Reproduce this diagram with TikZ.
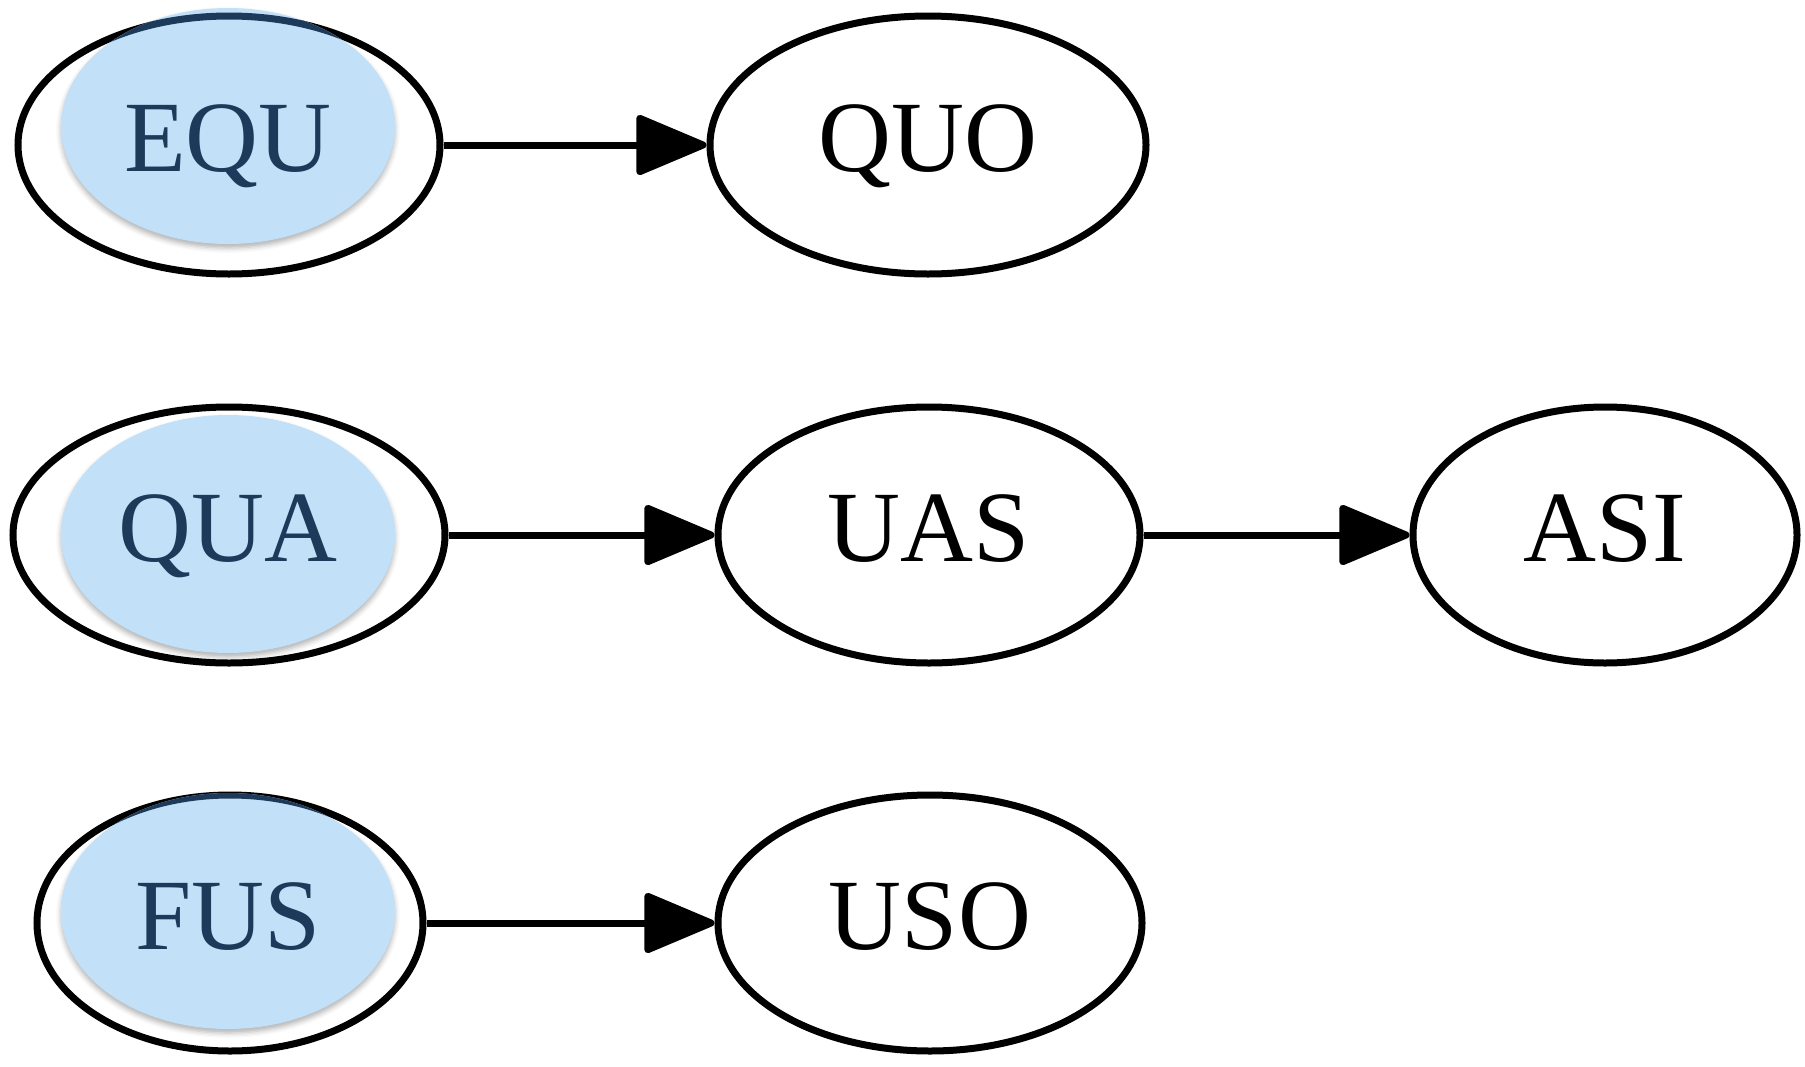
\documentclass[tikz,border=0pt]{standalone}
\usepackage{fontspec}
\setmainfont{Liberation Serif}
\newfontfamily\tnr{Liberation Serif}
\usetikzlibrary{shapes.geometric,arrows.meta,shadows.blur}
\definecolor{hl}{HTML}{C2E0F8}
\definecolor{navy}{HTML}{1E3A5A}
\tikzset{
  outl/.style={ellipse, draw=black, line width=7pt, inner sep=0pt},
  hlfill/.style={ellipse, fill=hl, inner sep=0pt,
    blur shadow={shadow xshift=0pt, shadow yshift=-4pt, shadow blur radius=5pt, shadow opacity=30}},
  lbl/.style={font=\tnr\fontsize{101}{110}\selectfont, text height=67pt, text depth=14pt, inner sep=0pt},
  conn/.style={line width=7pt, -{Triangle[length=76pt,width=62pt,round]}},
}
\begin{document}
\begin{tikzpicture}[x=1pt,y=-1pt]
\useasboundingbox (0,0) rectangle (1805,1066);
% outlines
\node[outl, minimum width=422pt, minimum height=258pt] (EQU) at (229,145) {};
\node[outl, minimum width=436pt, minimum height=258pt] (QUO) at (928,145) {};
\node[outl, minimum width=432pt, minimum height=256pt] (QUA) at (229,535) {};
\node[outl, minimum width=422pt, minimum height=256pt] (UAS) at (929,535) {};
\node[outl, minimum width=384pt, minimum height=256pt] (ASI) at (1605,535) {};
\node[outl, minimum width=386pt, minimum height=256pt] (FUS) at (230,923) {};
\node[outl, minimum width=424pt, minimum height=256pt] (USO) at (930,923) {};
% highlight fills
\node[hlfill, minimum width=334pt, minimum height=236pt] (EQUb) at (228,126) {};
\node[hlfill, minimum width=334pt, minimum height=238pt] (QUAb) at (228,534) {};
\node[hlfill, minimum width=334pt, minimum height=236pt] (FUSb) at (228,911) {};
% outline parts seen through the highlight
\begin{scope}
  \clip (EQUb.center) ellipse [x radius=167pt, y radius=118pt];
  \draw[navy, line width=7pt] (EQU.center) ellipse [x radius=211pt, y radius=129pt];
\end{scope}
\begin{scope}
  \clip (FUSb.center) ellipse [x radius=167pt, y radius=118pt];
  \draw[navy, line width=7pt] (FUS.center) ellipse [x radius=193pt, y radius=128pt];
\end{scope}
% labels
\node[lbl, text=navy] (EQUt) at (228,145) {EQU};
\node[lbl, text=navy] (QUAt) at (228,535) {QUA};
\node[lbl, text=navy] (FUSt) at (228,923) {FUS};
\node[lbl] (QUOt) at (QUO.center) {QUO};
\node[lbl] (UASt) at (UAS.center) {UAS};
\node[lbl] (ASIt) at (ASI.center) {ASI};
\node[lbl] (USOt) at (USO.center) {USO};
% connectors
\draw[conn] (EQU.east) -- (QUO.west);
\draw[conn] (QUA.east) -- (UAS.west);
\draw[conn] (UAS.east) -- (ASI.west);
\draw[conn] (FUS.east) -- (USO.west);
\end{tikzpicture}
\end{document}
